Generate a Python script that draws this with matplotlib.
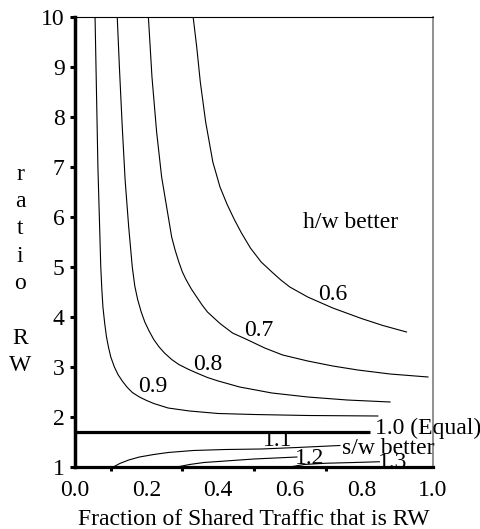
import matplotlib
matplotlib.use("Agg")
import matplotlib.pyplot as plt
from matplotlib.ticker import FixedLocator

plt.rcParams["font.family"] = ["Liberation Serif", "DejaVu Serif"]

# contour lines (x = fraction RW, y = ratio RW)
x_06 = [0.330, 0.340, 0.350, 0.365, 0.385, 0.405, 0.425, 0.445, 0.465, 0.490, 0.520, 0.550, 0.575, 0.600, 0.650, 0.720, 0.800, 0.860, 0.926]
y_06 = [10.0, 9.4, 8.7, 7.9, 7.1, 6.6, 6.25, 5.95, 5.68, 5.38, 5.1, 4.9, 4.74, 4.6, 4.4, 4.18, 3.97, 3.83, 3.70]

x_07 = [0.205, 0.215, 0.228, 0.242, 0.256, 0.270, 0.280, 0.290, 0.300, 0.310, 0.325, 0.340, 0.355, 0.370, 0.405, 0.440, 0.480, 0.530, 0.580, 0.650, 0.720, 0.790, 0.880, 0.986]
y_07 = [10.0, 8.8, 7.7, 6.8, 6.2, 5.6, 5.33, 5.1, 4.9, 4.75, 4.56, 4.4, 4.24, 4.1, 3.87, 3.68, 3.55, 3.38, 3.24, 3.12, 3.02, 2.94, 2.86, 2.80]

x_08 = [0.118, 0.124, 0.132, 0.140, 0.150, 0.160, 0.167, 0.175, 0.185, 0.195, 0.207, 0.220, 0.235, 0.250, 0.270, 0.290, 0.315, 0.340, 0.370, 0.400, 0.460, 0.550, 0.650, 0.760, 0.880]
y_08 = [10.0, 9.0, 7.8, 6.74, 5.8, 5.0, 4.62, 4.35, 4.1, 3.9, 3.72, 3.55, 3.4, 3.28, 3.15, 3.05, 2.96, 2.88, 2.79, 2.72, 2.6, 2.48, 2.40, 2.34, 2.30]

x_09 = [0.056, 0.060, 0.064, 0.068, 0.072, 0.075, 0.078, 0.083, 0.088, 0.094, 0.100, 0.110, 0.120, 0.132, 0.145, 0.160, 0.180, 0.200, 0.220, 0.260, 0.320, 0.400, 0.500, 0.650, 0.846]
y_09 = [10.0, 8.5, 7.0, 6.0, 5.0, 4.55, 4.2, 3.87, 3.6, 3.38, 3.2, 3.0, 2.85, 2.72, 2.6, 2.49, 2.4, 2.33, 2.27, 2.18, 2.12, 2.07, 2.05, 2.03, 2.02]

x_10 = [0.0, 0.824]
y_10 = [1.706, 1.706]

x_11 = [0.107, 0.125, 0.150, 0.180, 0.220, 0.260, 0.330, 0.420, 0.520, 0.620, 0.740]
y_11 = [1.00, 1.07, 1.14, 1.20, 1.25, 1.29, 1.33, 1.35, 1.36, 1.39, 1.43]

x_12 = [0.285, 0.320, 0.360, 0.420, 0.500, 0.560, 0.620]
y_12 = [1.00, 1.05, 1.09, 1.12, 1.16, 1.18, 1.20]

x_13 = [0.600, 0.640, 0.700, 0.780, 0.850]
y_13 = [1.00, 1.05, 1.075, 1.09, 1.105]

curves = [(x_06, y_06), (x_07, y_07), (x_08, y_08), (x_09, y_09),
          (x_11, y_11), (x_12, y_12), (x_13, y_13)]

labels = ["0.6", "0.7", "0.8", "0.9", "1.1", "1.2", "1.3"]
label_x = [0.72, 0.514, 0.37, 0.218, 0.566, 0.656, 0.886]
label_y = [4.44, 3.72, 3.04, 2.60, 1.54, 1.18, 1.08]

x_ticks = [0.0, 0.2, 0.4, 0.6, 0.8, 1.0]
x_marks = [0.0, 0.1, 0.3, 0.4, 0.5, 0.6, 0.7, 0.8, 1.0]
y_ticks = [1, 2, 3, 4, 5, 6, 7, 8, 9, 10]

FS = 17

fig = plt.figure(figsize=(4.81, 5.29), dpi=100)
ax = fig.add_axes([75 / 481, 1 - 467 / 529, 358 / 481, 450 / 529])

for xs, ys in curves:
    ax.plot(xs, ys, color="black", lw=0.8)
ax.plot(x_10, y_10, color="black", lw=2.3, solid_capstyle="butt")

for t, lx, ly in zip(labels, label_x, label_y):
    ax.text(lx, ly, t, fontsize=FS, ha="center", va="center", zorder=2)

ax.text(0.838, 1.78, "1.0 (Equal)", fontsize=FS, ha="left", va="center")
ax.text(0.746, 1.37, "s/w better", fontsize=FS, ha="left", va="center")
ax.text(0.77, 5.88, "h/w better", fontsize=FS, ha="center", va="center")

ax.set_xlim(0, 1)
ax.set_ylim(1, 10)
ax.set_xticks(x_ticks)
ax.set_xticklabels([f"{v:.1f}" for v in x_ticks])
ax.xaxis.set_minor_locator(FixedLocator(x_marks))
ax.set_yticks(y_ticks)
ax.tick_params(axis="x", which="major", length=0, pad=9, labelsize=FS)
ax.tick_params(axis="x", which="minor", length=3, width=2.2, direction="out")
ax.tick_params(axis="y", length=3.5, width=2.2, direction="out", pad=4, labelsize=FS)

ax.spines["left"].set_linewidth(2.5)
ax.spines["bottom"].set_linewidth(2.3)
ax.spines["top"].set_linewidth(0.8)
ax.spines["right"].set_linewidth(1.3)
ax.spines["right"].set_color("#888888")

fig.text(254 / 481, 1 - 525 / 529, "Fraction of Shared Traffic that is RW",
         fontsize=FS, ha="center", va="baseline")
fig.text(20 / 481, 1 - 270 / 529, "r\na\nt\ni\no\n\nR\nW", fontsize=FS,
         ha="center", va="center", multialignment="center", linespacing=1.4)

fig.savefig("out.png", dpi=100)
